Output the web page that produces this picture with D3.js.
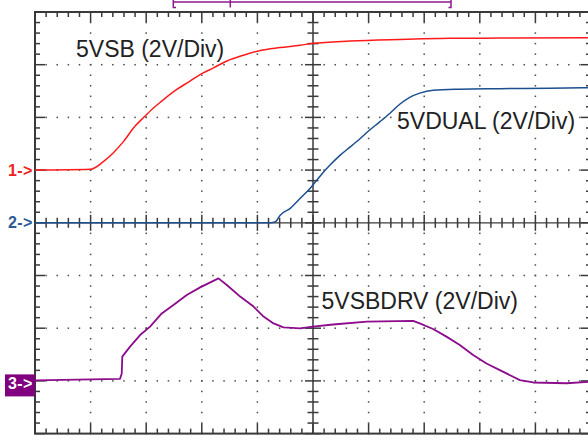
<!DOCTYPE html>
<html>
<head>
<meta charset="utf-8">
<script src="https://cdn.jsdelivr.net/npm/d3@7"></script>
<style>
  html, body { margin: 0; padding: 0; background: #fff; }
  svg { display: block; }
</style>
</head>
<body>
<svg id="scope" width="588" height="440"></svg>
<script>
// Time base in screen divisions (10 horizontal divisions), voltages in volts.
const ch1Time = [0, 1.0, 1.23, 1.41, 1.59, 1.80, 1.98, 2.10, 2.28, 2.55, 2.76, 3.00, 3.21, 3.45, 3.75, 4.05, 4.41, 4.77, 5.00, 5.67, 6.56, 7.46, 8.36, 9.95];
const ch1Volts = [0, 0.03, 0.32, 0.66, 1.08, 1.67, 2.05, 2.30, 2.62, 3.06, 3.34, 3.66, 3.88, 4.14, 4.36, 4.54, 4.65, 4.74, 4.81, 4.90, 4.96, 5.00, 5.01, 5.02];

const ch2Time = [0, 4.23, 4.32, 4.41, 4.59, 4.77, 4.95, 5.13, 5.31, 5.49, 5.67, 5.85, 6.02, 6.20, 6.38, 6.56, 6.74, 6.92, 7.16, 7.64, 8.36, 9.26, 9.95];
const ch2Volts = [0, 0, 0.03, 0.29, 0.55, 0.93, 1.31, 1.78, 2.20, 2.57, 2.88, 3.20, 3.52, 3.83, 4.15, 4.50, 4.76, 4.92, 5.03, 5.07, 5.09, 5.11, 5.13];

const ch3Time = [0, 1.53, 1.56, 1.57, 1.71, 1.89, 2.07, 2.28, 2.49, 2.73, 2.97, 3.30, 3.45, 3.69, 3.93, 4.11, 4.29, 4.47, 4.77, 5.00, 5.36, 5.97, 6.80, 6.92, 7.16, 7.40, 7.64, 7.88, 8.12, 8.36, 8.60, 8.72, 8.96, 9.56, 9.95];
const ch3Volts = [0.02, 0.08, 0.28, 0.92, 1.30, 1.74, 2.06, 2.56, 2.88, 3.26, 3.55, 3.89, 3.64, 3.20, 2.82, 2.44, 2.18, 2.03, 1.99, 2.06, 2.14, 2.25, 2.28, 2.18, 1.97, 1.68, 1.36, 0.98, 0.66, 0.41, 0.16, 0.03, -0.06, -0.09, -0.04];

// Channel settings: name, volts per division, ground offset (divisions from centre)
const channelNames = ["5VSB", "5VDUAL", "5VSBDRV"];
const voltsPerDiv = [2, 2, 2];
const groundOffsets = [1, 0, -3];
const markerTexts = ["1->", "2->", "3->"];
const traceLabels = ["5VSB (2V/Div)", "5VDUAL (2V/Div)", "5VSBDRV (2V/Div)"];

const colors = ["#ff1a1a", "#1b4f8f", "#8c0c8c"];
const markerColors = ["#ee2020", "#2b5a96", "#800080"];

const svg = d3.select("#scope");

// Graticule: 10 x 8 divisions, 5 subdivisions each
const x = d3.scaleLinear().domain([0, 10]).range([35, 591]);
const y = d3.scaleLinear().domain([-4, 4]).range([433.6, 12]);

const gridColor = "#3a3a3a";
const g = svg.append("g");

// Dotted graticule lines
const minorX = d3.range(0, 50.5).map(i => i * 0.2);
const minorY = d3.range(0, 40.5).map(i => -4 + i * 0.2);
const majorX = [1, 2, 3, 4, 6, 7, 8, 9];
const majorY = [-3, -2, -1, 1, 2, 3];

const dots = [];
majorX.forEach(mx => minorY.forEach(my => dots.push([mx, my])));
majorY.forEach(my => minorX.forEach(mx => dots.push([mx, my])));
g.selectAll("rect.dot").data(dots).join("rect")
  .attr("class", "dot")
  .attr("x", d => x(d[0]) - 0.75)
  .attr("y", d => y(d[1]) - 0.75)
  .attr("width", 1.5).attr("height", 1.5)
  .attr("fill", "#4a4a4a");

// Border
g.append("rect")
  .attr("x", x(0)).attr("y", y(4))
  .attr("width", x(10) - x(0)).attr("height", y(-4) - y(4))
  .attr("fill", "none").attr("stroke", gridColor).attr("stroke-width", 2);

// Border ticks
const isMajor = v => Math.abs(v - Math.round(v)) < 1e-6;
const tick = (x1, y1, x2, y2, w) => g.append("line")
  .attr("x1", x1).attr("y1", y1).attr("x2", x2).attr("y2", y2)
  .attr("stroke", gridColor).attr("stroke-width", w || 1.5);

minorX.forEach(v => {
  const len = isMajor(v) ? 10 : 5;
  tick(x(v), y(4), x(v), y(4) + len);
  tick(x(v), y(-4), x(v), y(-4) - len);
});
minorY.forEach(v => {
  const len = isMajor(v) ? 10 : 5;
  tick(x(0), y(v), x(0) + len, y(v));
  tick(x(10), y(v), x(10) - len, y(v));
});

// Centre axes with cross ticks
tick(x(0), y(0), x(10), y(0), 1.2);
tick(x(5), y(4), x(5), y(-4), 1.5);
minorX.forEach(v => {
  const h = isMajor(v) ? 8 : 5;
  tick(x(v), y(0) - h, x(v), y(0) + h);
});
minorY.forEach(v => {
  const h = isMajor(v) ? 8 : 5.5;
  tick(x(5) - h, y(v), x(5) + h, y(v));
});

// Horizontal position indicator bar above the screen
const barColor = "#8c1a8c";
const bar = svg.append("g").attr("stroke", barColor).attr("stroke-width", 1.5).attr("fill", "none");
bar.append("line").attr("x1", 173.3).attr("x2", 451).attr("y1", 2).attr("y2", 2);
bar.append("path").attr("d", "M173.3,0 V7.5 H176");
bar.append("line").attr("x1", 230.3).attr("x2", 230.3).attr("y1", 0).attr("y2", 7.5);
bar.append("path").attr("d", "M451,0 V7.5 H448.5");

// Traces: the supply ramps are smooth, the driver trace keeps its sharp corners
const traces = [
  { t: ch1Time, v: ch1Volts, curve: d3.curveMonotoneX },
  { t: ch2Time, v: ch2Volts, curve: d3.curveMonotoneX },
  { t: ch3Time, v: ch3Volts, curve: d3.curveLinear }
];
traces.forEach((tr, i) => {
  const pts = tr.t.map((t, k) => [t, groundOffsets[i] + tr.v[k] / voltsPerDiv[i]]);
  const line = d3.line().x(d => x(d[0])).y(d => y(d[1])).curve(tr.curve);
  svg.append("path")
    .attr("d", line(pts))
    .attr("fill", "none")
    .attr("stroke", colors[i])
    .attr("stroke-width", i === 2 ? 1.8 : 1.5)
    .attr("stroke-linejoin", "round");
});

// Ground markers
markerTexts.forEach((m, i) => {
  const gy = y(groundOffsets[i]);
  if (i === 2) {
    svg.append("rect")
      .attr("x", 5).attr("y", gy - 6.5)
      .attr("width", 30).attr("height", 22)
      .attr("fill", markerColors[i]);
    svg.append("text")
      .attr("x", 8).attr("y", gy + 8)
      .attr("font-family", "Liberation Sans, Arial, sans-serif")
      .attr("font-size", 16).attr("font-weight", "bold")
      .attr("letter-spacing", 0.4)
      .attr("fill", "#fff").text(m);
  } else {
    svg.append("text")
      .attr("x", 8).attr("y", gy + 5.6)
      .attr("font-family", "Liberation Sans, Arial, sans-serif")
      .attr("font-size", 16).attr("font-weight", "bold")
      .attr("letter-spacing", 0.4)
      .attr("fill", markerColors[i]).text(m);
  }
});

// Trace labels
const labelPos = [[76, 57], [397, 129], [321.5, 309.3]];
traceLabels.forEach((txt, i) => {
  const lg = svg.append("g");
  const bg = lg.append("rect").attr("fill", "#fff");
  const t = lg.append("text")
    .attr("x", labelPos[i][0]).attr("y", labelPos[i][1])
    .attr("font-family", "Liberation Sans, Arial, sans-serif")
    .attr("font-size", 23)
    .attr("fill", "#222")
    .text(txt);
  const bb = t.node().getBBox();
  bg.attr("x", bb.x - 1).attr("y", bb.y + 2)
    .attr("width", bb.width + 2).attr("height", bb.height - 3);
});
</script>
</body>
</html>
